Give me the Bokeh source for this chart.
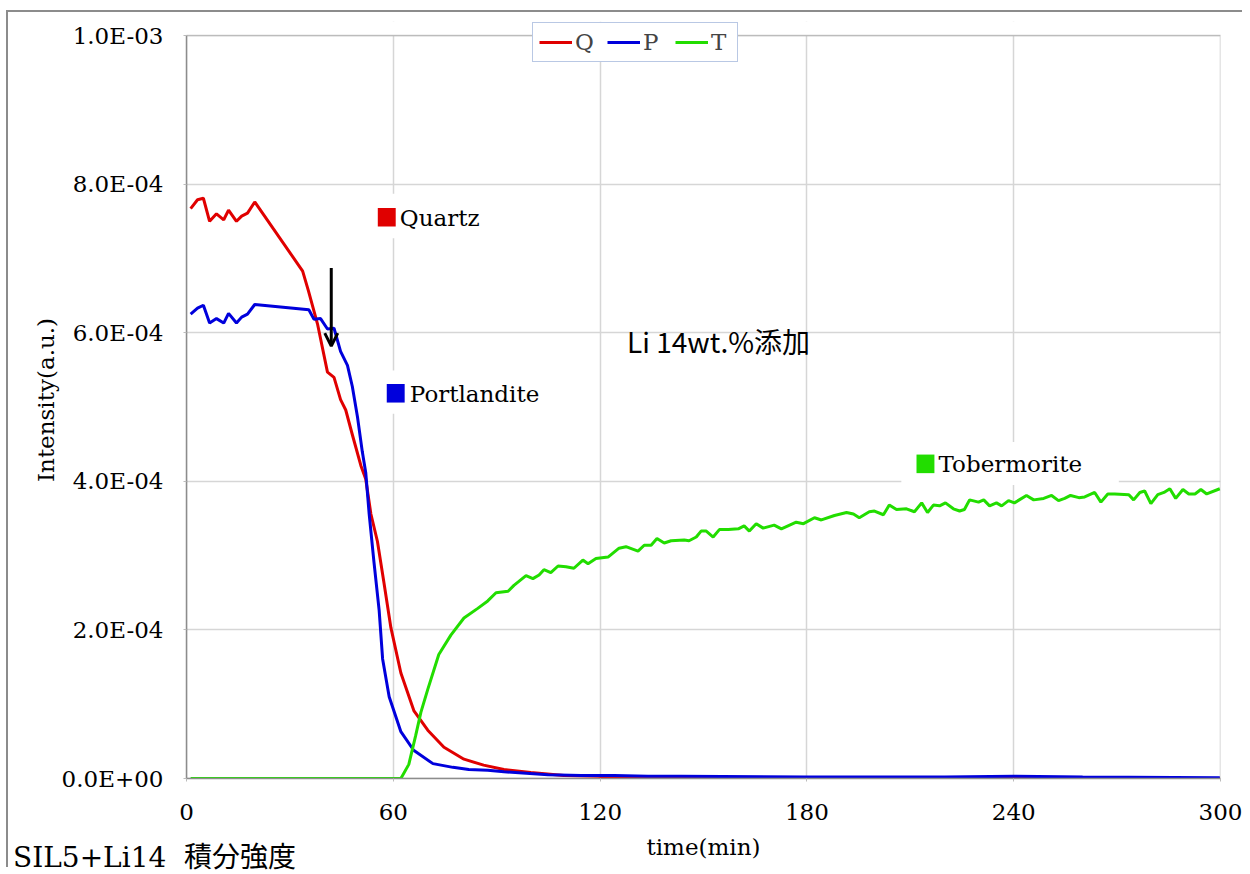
from bokeh.plotting import figure
from bokeh.layouts import column
from bokeh.models import (FixedTicker, CustomJSTickFormatter, Range1d, Label, BoxAnnotation,
                          Arrow, OpenHead, Legend, LegendItem, Div)
from bokeh.embed import file_html
from bokeh.resources import INLINE

# ---------------- data (time in min, intensity in units of 1e-4) ----------------
q_time = [1.2, 3.2, 4.9, 6.7, 8.7, 10.8, 12.2, 14.5, 16.0, 17.7, 19.8, 33.7, 35.4, 38.0,
          40.9, 42.8, 44.7, 46.2, 48.1, 50.6, 52.0, 53.5, 55.4, 57.3, 59.3, 62.2, 66.0,
          70.0, 74.7, 80.5, 86.2, 92.1, 99.9, 109.5, 119.4, 127.0, 180.0, 240.0, 299.8]
q_int_e4 = [7.67, 7.79, 7.81, 7.50, 7.60, 7.52, 7.65, 7.50, 7.57, 7.61, 7.76, 6.83, 6.56, 6.12,
            5.47, 5.40, 5.10, 4.96, 4.63, 4.21, 4.03, 3.56, 3.19, 2.63, 2.03, 1.42, 0.91,
            0.65, 0.42, 0.26, 0.18, 0.12, 0.08, 0.04, 0.03, 0.00, 0.00, 0.00, 0.00]

p_time = [1.2, 3.2, 4.9, 6.7, 8.7, 10.8, 12.2, 14.5, 16.0, 17.7, 19.8, 35.5, 37.0, 38.9,
          40.9, 42.8, 44.7, 46.7, 48.1, 49.6, 51.0, 52.0, 53.0, 54.4, 55.9, 56.9, 58.8,
          62.2, 65.9, 71.5, 77.3, 81.9, 87.4, 92.1, 104.9, 114.5, 124.1, 133.9, 143.5,
          180.0, 220.0, 240.0, 260.0, 299.8]
p_int_e4 = [6.25, 6.33, 6.37, 6.13, 6.19, 6.13, 6.26, 6.13, 6.21, 6.25, 6.38, 6.31, 6.18, 6.19,
            6.05, 6.06, 5.75, 5.56, 5.28, 4.87, 4.40, 4.12, 3.56, 2.91, 2.26, 1.61, 1.10,
            0.63, 0.38, 0.20, 0.15, 0.12, 0.11, 0.09, 0.05, 0.04, 0.04, 0.03, 0.03,
            0.02, 0.02, 0.03, 0.02, 0.01]

t_time = [1.2, 62.2, 64.5, 66.5, 68.0, 70.0, 73.2, 76.7, 80.5, 84.5, 87.4, 89.8, 93.3, 95.0,
          98.5, 100.5, 102.3, 103.7, 105.7, 107.8, 110.1, 112.4, 115.0, 116.5, 118.8, 122.3,
          125.5, 127.5, 131.0, 132.8, 134.8, 136.5, 138.6, 140.6, 144.4, 145.8, 147.9, 149.3,
          150.8, 152.8, 154.6, 157.2, 160.1, 161.8, 163.3, 165.3, 167.3, 170.5, 172.6, 176.9,
          179.0, 182.2, 184.2, 188.0, 191.5, 193.5, 195.2, 198.1, 199.6, 202.2, 203.9, 206.0,
          208.9, 211.2, 213.3, 215.0, 216.7, 218.5, 220.2, 222.5, 224.3, 225.7, 227.2, 229.8,
          231.3, 233.0, 235.0, 236.5, 238.5, 240.2, 243.7, 245.8, 248.7, 251.0, 253.0, 254.8,
          256.5, 258.9, 260.6, 263.5, 265.3, 267.3, 269.3, 273.4, 274.8, 276.6, 278.0, 279.8,
          281.8, 283.6, 285.3, 287.0, 289.1, 290.8, 292.6, 294.3, 296.0, 299.8]
t_int_e4 = [0.00, 0.00, 0.19, 0.58, 0.89, 1.20, 1.67, 1.93, 2.16, 2.29, 2.39, 2.50, 2.52, 2.60,
            2.73, 2.69, 2.74, 2.81, 2.77, 2.86, 2.85, 2.83, 2.94, 2.89, 2.96, 2.98,
            3.10, 3.12, 3.06, 3.14, 3.14, 3.23, 3.17, 3.20, 3.21, 3.20, 3.25, 3.33,
            3.33, 3.25, 3.35, 3.35, 3.36, 3.40, 3.33, 3.43, 3.37, 3.41, 3.36, 3.45,
            3.43, 3.51, 3.48, 3.54, 3.58, 3.56, 3.51, 3.59, 3.60, 3.55, 3.68, 3.62,
            3.63, 3.59, 3.71, 3.58, 3.68, 3.67, 3.71, 3.63, 3.60, 3.62, 3.75, 3.72,
            3.75, 3.67, 3.71, 3.67, 3.74, 3.71, 3.81, 3.75, 3.77, 3.81, 3.74, 3.77,
            3.81, 3.78, 3.79, 3.85, 3.72, 3.83, 3.83, 3.82, 3.75, 3.85, 3.87, 3.70,
            3.82, 3.85, 3.90, 3.77, 3.89, 3.83, 3.83, 3.89, 3.83, 3.90]

x_ticks = [0, 60, 120, 180, 240, 300]
y_ticks = [0.0, 2e-4, 4e-4, 6e-4, 8e-4, 1e-3]
series_names = ["Q", "P", "T"]
phase_names = ["Quartz", "Portlandite", "Tobermorite"]
caption = "SIL5+Li14  積分強度"
note = "Li 14wt.%添加"

E4 = 1e-4
q_vals = [v * E4 for v in q_int_e4]
p_vals = [v * E4 for v in p_int_e4]
t_vals = [v * E4 for v in t_int_e4]

RED = "#e00000"
BLUE = "#0000dc"
GREEN = "#22dd00"
SERIF = "DejaVu Serif"
FS = "23px"
Y_MAX = 1e-3
# the frame reaches 14 px above 1.0E-03 so that the legend can straddle the top edge
Y_TOP = Y_MAX * 755 / 741

p = figure(frame_width=1032, frame_height=755,
           min_border_left=178, min_border_right=24, min_border_top=9, min_border_bottom=91,
           x_range=Range1d(0, 300), y_range=Range1d(0, Y_TOP),
           output_backend="svg", toolbar_location=None,
           background_fill_color="white", border_fill_color="white",
           margin=(10, 0, 0, 6),
           styles={"border-left": "2px solid #8c8c8c", "border-top": "2px solid #8c8c8c"})

p.outline_line_color = None

p.xaxis.ticker = FixedTicker(ticks=x_ticks)
p.yaxis.ticker = FixedTicker(ticks=y_ticks)
p.yaxis.bounds = (0, Y_MAX)
p.yaxis.formatter = CustomJSTickFormatter(code="""
    const parts = tick.toExponential(1).split('e');
    const sign = parts[1][0];
    const d = parts[1].slice(1).padStart(2, '0');
    return parts[0] + 'E' + sign + d;
""")
for ax in (p.xaxis, p.yaxis):
    ax.axis_line_color = "#8c8c8c"
    ax.axis_line_width = 1.5
    ax.major_tick_line_color = "#bbbbbb"
    ax.major_tick_out = 3
    ax.major_tick_in = 0
    ax.minor_tick_line_color = None
    ax.major_label_text_font = SERIF
    ax.major_label_text_font_size = FS
    ax.major_label_text_color = "black"
    ax.axis_label_text_font = SERIF
    ax.axis_label_text_font_size = FS
    ax.axis_label_text_font_style = "normal"
    ax.axis_label_text_color = "black"
p.xaxis.axis_label = "time(min)"
p.yaxis.axis_label = "Intensity(a.u.)"
p.yaxis.major_label_standoff = 20
p.yaxis.axis_label_standoff = 0
p.xaxis.major_label_standoff = 22
p.xaxis.axis_label_standoff = 11

p.grid.grid_line_color = "#d6d6d6"
p.grid.grid_line_width = 1.5

# hide grid above the 1.0E-03 line, then draw the plot-area frame
p.add_layout(BoxAnnotation(bottom=Y_MAX, fill_color="white", fill_alpha=1,
                           line_color=None, level="underlay"))
p.add_layout(BoxAnnotation(left=0, right=300, bottom=0, top=Y_MAX, fill_alpha=0,
                           line_color="#505050", line_width=1.5, level="underlay"))

# white backgrounds of the phase labels
for (l, r, b, t) in [(53.5, 88.9, 7.27e-4, 7.87e-4), (56.4, 106.3, 4.91e-4, 5.49e-4),
                     (207.4, 270.5, 3.95e-4, 4.53e-4)]:
    p.add_layout(BoxAnnotation(left=l, right=r, bottom=b, top=t, fill_color="white",
                               fill_alpha=1, line_color=None, level="underlay"))

rq = p.line(q_time, q_vals, line_color=RED, line_width=3)
rp = p.line(p_time, p_vals, line_color=BLUE, line_width=3)
rt = p.line(t_time, t_vals, line_color=GREEN, line_width=3)

# colored squares of the phase labels
for (l, r, b, t), c in zip([(55.5, 60.7, 7.43e-4, 7.68e-4), (58.1, 63.3, 5.06e-4, 5.31e-4),
                            (211.8, 217.0, 4.11e-4, 4.36e-4)], [RED, BLUE, GREEN]):
    p.add_layout(BoxAnnotation(left=l, right=r, bottom=b, top=t, fill_color=c,
                               fill_alpha=1, line_color=None))

for name, (x, y) in zip(phase_names, [(61.9, 7.55e-4), (64.8, 5.18e-4), (218.2, 4.23e-4)]):
    p.add_layout(Label(x=x, y=y, text=name, text_font=SERIF, text_font_size=FS,
                       text_color="black", text_baseline="middle"))

p.add_layout(Label(x=127.8, y=5.89e-4, text=note,
                   text_font="Noto Sans CJK JP", text_font_size="28px",
                   text_color="black", text_baseline="middle"))

p.add_layout(Arrow(x_start=42.0, y_start=6.87e-4, x_end=42.0, y_end=5.82e-4,
                   line_color="black", line_width=3,
                   end=OpenHead(size=13, line_width=3, line_color="black")))

legend = Legend(items=[LegendItem(label=n, renderers=[r]) for n, r in zip(series_names, [rq, rp, rt])],
                orientation="horizontal", location=(346, 716),
                label_text_font=SERIF, label_text_font_size=FS,
                glyph_width=33, glyph_height=20, label_standoff=3, spacing=12,
                padding=6, margin=0, border_line_color="#7391c9", border_line_width=1.5,
                background_fill_color="white", background_fill_alpha=1)
p.add_layout(legend)

cap_div = Div(text=caption, width=420, height=32,
              styles={"position": "absolute", "left": "8px", "top": "838px",
                      "font-family": "'DejaVu Serif', 'Noto Sans CJK JP', serif",
                      "font-size": "28px", "line-height": "30px", "white-space": "pre",
                      "color": "black"})

layout = column(p, cap_div)
open("out.html", "w").write(file_html(layout, INLINE))
